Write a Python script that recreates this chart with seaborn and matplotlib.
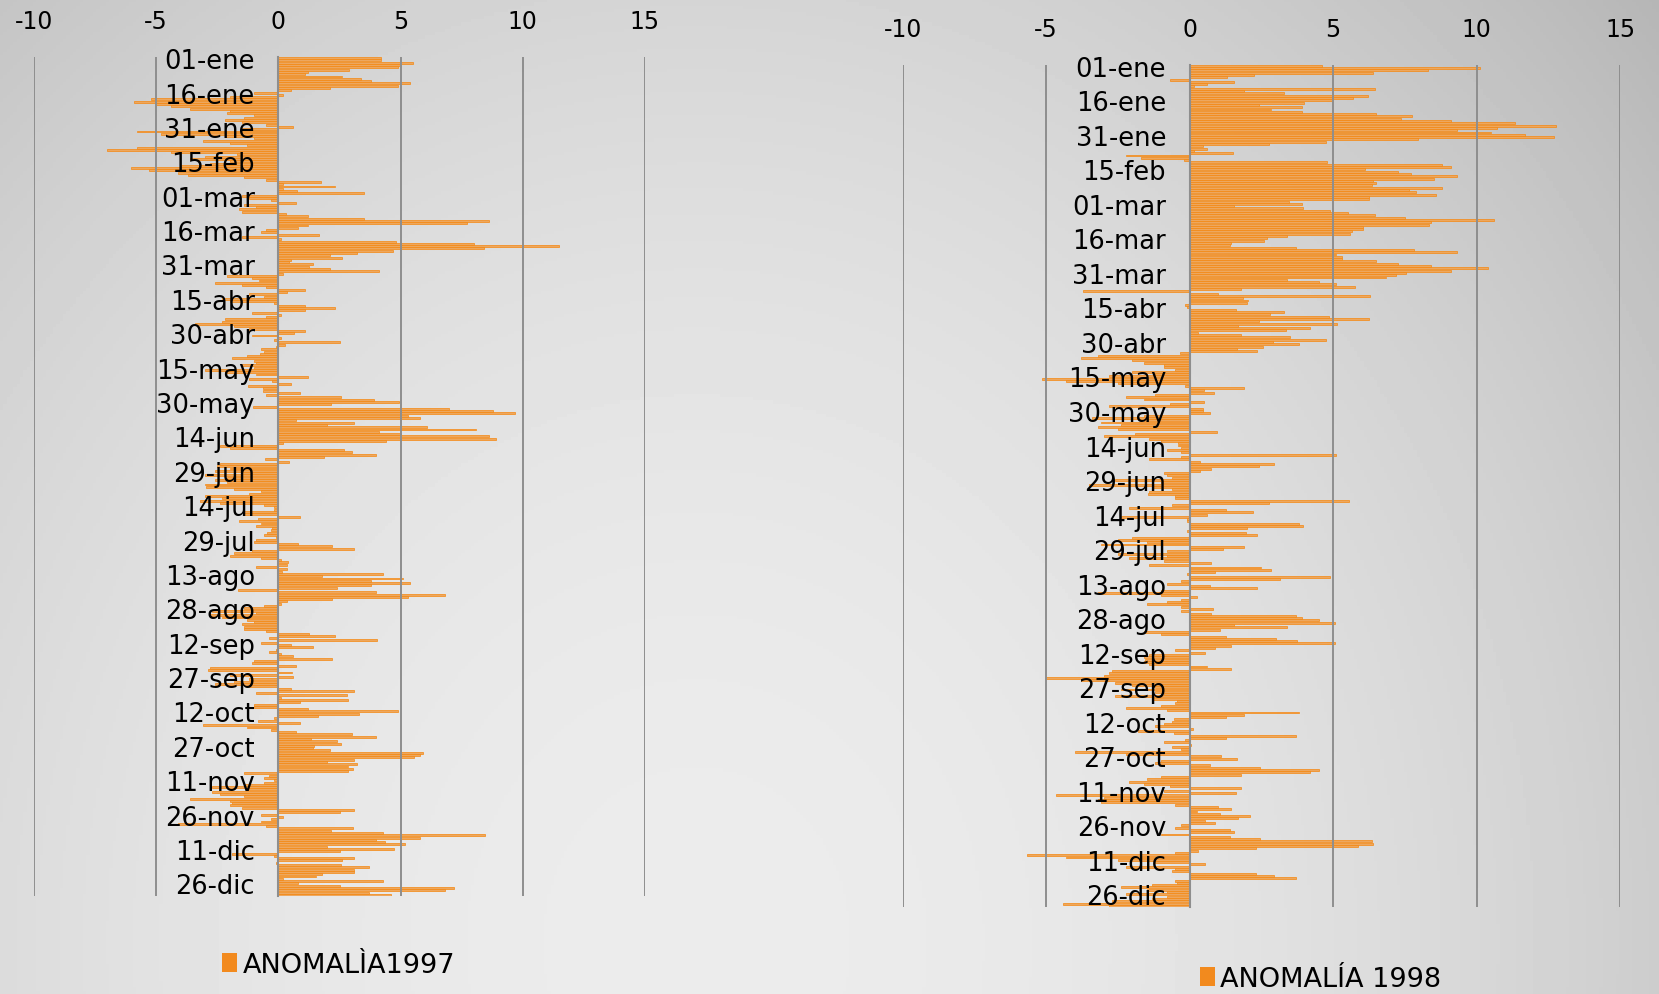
import numpy as np
import pandas as pd
import matplotlib
matplotlib.use('Agg')
import matplotlib.pyplot as plt
import seaborn as sns
from matplotlib.patches import Patch

plt.rcParams['axes.unicode_minus'] = False

# etiquetas diarias (año con 29-feb, como en la hoja original)
MESES = ['ene', 'feb', 'mar', 'abr', 'may', 'jun', 'jul', 'ago', 'sep', 'oct', 'nov', 'dic']
dias = pd.date_range('2000-01-01', '2000-12-31')
fechas = [f'{d.day:02d}-{MESES[d.month - 1]}' for d in dias]

anomalia_1997 = [
    4.2, 4.2, 5.5, 5.0, 4.9, 2.9, 1.2, 1.1, 2.6, 3.4, 3.8, 5.4, 4.9, 2.1, 0.5, -1.0,
    0.2,
    -2.0, -5.2, -5.9, -5.0, -4.4, -3.6, -2.0, -2.1, -1.0, -1.4, -2.2, -1.5, -0.5,
    0.6,
    -1.5, -5.8, -4.8, -2.2, -1.0, -3.1, -2.0, -1.3, -5.8, -7.0, -4.4, -1.7, -3.0, -3.6, -2.0,
    -2.8, -4.0, -6.05, -5.3, -4.1, -3.7, -1.4, -0.5,
    1.75, 0.2, 2.3, 0.2, 0.75, 3.5, -1.5, -1.2, -0.3, 0.7, -1.4, -0.9, -1.6, -1.5, 0.3,
    1.2, 3.5, 8.6, 7.7, 1.2, 0.8, -0.5, -0.7, 1.65, -1.5, 0.1, 4.8, 8.0, 11.5, 8.4,
    4.7, 3.2, 2.1, 2.6, 0.5,
    0.45, 1.4, 1.25, 2.1, 4.1, 0.2, -2.1, -1.1, -0.8, -2.6,
    -1.5, -0.5, 1.1, 0.35, -1.2, -0.6, -2.3, -2.0, -0.2, 1.1,
    2.3, 1.1, -1.1, 0.1, -0.5, -2.2, -2.3, -3.4, -1.8, -1.2,
    1.1, 0.65, -1.1, 0.1, -0.2, 2.5, 0.25, -0.1, -0.7, -0.6,
    -0.75, -1.3, -1.9, -1.0, -0.9, -1.5, -1.0, -3.0, -2.2, -0.9,
    1.2, -1.2, -0.25, 0.5, -1.25, -0.65, -0.65, 0.9, -0.5, 2.55,
    3.9, 4.95, 2.15, -1.05, 7.0, 8.8, 9.7, 5.3, 5.8, 0.7,
    3.1, 2.0, 6.1, 8.1, 4.1, 5.0, 8.6, 8.9, 4.4, 0.2,
    -2.4, -2.0, 2.7, 3.0, 4.0, 1.85, -0.55, 0.45, -2.4, -2.5,
    -2.0, -2.6, -1.5,
    -3.0, -2.1, -2.6, -2.1, -3.0, -2.95, -1.8, -0.7, -1.2, -3.0,
    -2.3, -3.2, -2.4, -0.6, -0.2, -0.2, -1.4, -1.4, 0.9, -0.85,
    -1.6, -0.7, -0.9, -0.25, -0.3, -0.45, -0.6, -0.1, -0.9, -1.0,
    0.8, 2.2, 3.1, -1.1, -1.8, -2.0, -0.7, 0.1, 0.4, 0.35,
    -0.9, 0.35, 0.15, 4.3, 1.8, 5.1, 3.8, 5.4, 3.8, 2.4,
    -1.65, 4.0, 6.8, 5.3, 2.2, 0.35, 0.1, -0.6, -1.4, -2.7,
    -0.9, -2.8, -2.3, -1.3, -1.0, -1.5, -1.4, -1.4, -0.5, 1.25,
    2.3, -0.4, 4.05, -0.7, 0.5, 1.4, -0.1, -0.4, 0.1, 0.6,
    2.2, -1.0, -1.1, 0.7, -2.8, -2.9, 0.55, -2.0, 0.6, -1.2,
    -1.8, -2.6, -1.2,
    0.5, 3.1, -0.9, 2.8, 0.1, 2.85, 0.9, -1.0, -1.0, 1.2,
    4.9, 3.3, 1.6, -0.2, -0.85, 0.9, -3.1, -1.3, -0.3, 0.7,
    3.0, 4.0, 1.35, 2.4, 2.55, 1.45, 1.4, 2.1, 5.9, 5.8,
    5.55, 3.1, 2.0, 3.2, 2.85, 3.05, 2.85,
    -1.4, -0.4, -0.6, -0.2, -0.6, -1.4, -2.7, -1.3, -2.7, -2.4, -1.4, -3.6, -2.0, -1.9, -2.0, -1.5,
    3.1, 2.5, -0.7, 0.2, -0.3, -0.7, -4.1, -0.5,
    3.05, 2.15, 4.3, 8.45, 5.8, 4.0, 4.35, 5.2, 2.0, 4.75,
    2.5, -1.9, -0.2, 3.1, 2.6, -0.1, 2.55, 3.7, 3.1, 3.1,
    1.8, 1.55, 0.2, 4.3, 0.8, 2.5, 7.2, 6.8, 3.7, 4.6,
]

anomalia_1998 = [
    4.6, 10.1, 8.3, 6.4, 2.25, 1.3, -0.7, 1.55, 0.6, 0.15,
    6.45, 1.9, 3.3, 6.2, 5.7, 4.95, 4.0, 2.4, 3.9, 2.85,
    3.9, 6.5, 7.75, 7.35, 9.1, 11.35, 12.75, 10.7, 9.3, 10.5,
    11.7, 12.7, 7.95, 4.75, 2.75, 0.45, 0.6, 0.15, 1.5,
    -2.2, -1.7, -0.2,
    4.8, 8.8, 9.1, 6.1, 7.25, 7.7, 9.3, 8.5, 6.4, 6.5, 6.35, 8.8, 7.65, 7.9, 8.6, 6.25, 6.25,
    3.45, 3.9, 1.55, 3.95, 4.9, 5.5, 6.45, 7.5, 10.6, 8.4,
    8.35, 6.05, 6.05, 5.65, 5.6, 3.4, 2.7, 2.6, 1.45, 1.4,
    3.7, 7.8, 9.3, 5.1, 5.3, 5.3, 6.5, 7.25, 8.4, 10.4,
    9.1, 7.55, 7.2, 6.85, 3.4, 4.5, 5.1, 5.75, 1.8, -3.7,
    1.0, 6.3, 1.85, 2.05, 2.0, -0.15, -0.1, 1.6, 3.3, 2.8,
    4.85, 6.25, 2.4, 5.15, 1.7, 4.2, 3.35, 0.3, 1.8, 3.5,
    4.75, 2.9, 3.8, 2.55, 1.65, 2.35, -0.35, -3.2, -3.8, -2.0,
    -1.6, -0.9, -0.9, -0.5, -2.0, -1.2, -2.8, -5.15, -4.3, -2.5,
    -0.15, 1.9, 0.5, 0.85, -1.2, -2.2, -1.6, 0.5, -0.7, -2.8,
    0.45, 0.45, 0.7, -1.6, -3.4, -1.6, -3.1, -2.4, -3.2, -2.5,
    0.95, -1.9, -3.0, -1.4, -1.0, -0.4, -0.4, -0.3, -0.8, -0.3,
    5.1, -0.3, -1.4, 0.35, 2.95, 2.4, 0.75, 0.35, -0.9, -0.8,
    -0.6,
    -2.6, -1.0, -3.5, -1.3, -0.6, -1.4, -1.45, -0.5, -0.5, 5.55,
    2.75, -0.6, -2.1, 1.25, 2.2, 0.6, -2.4, -0.1, -0.1, 3.8,
    3.95, 2.0, -0.1, 1.95, 2.35, -2.0, -2.5, -1.5, -3.1, 1.9,
    1.15, -0.8, -2.5, -0.8, -2.1, -0.9, 0.75, -1.4, 2.5, 2.85,
    0.9, -0.1, 4.9, 3.15, -0.3, -0.8, 0.7, 2.35, -1.0, -3.2,
    -1.0, 0.25, -0.3, -0.8, -1.5, -0.3, 0.8, -0.3, 0.75, 3.7,
    3.9, 4.5, 5.05, 1.55, 3.4, 1.05, -1.6, -1.0, 1.25, 3.0,
    3.75, 5.05, 1.45, 0.9, -0.5, 0.55, -1.4, -1.6, -1.55, -1.6,
    -1.4, 0.6, 1.45, -2.7, -2.8, -3.0, -5.0, -3.8, -2.6, -2.0,
    -1.2,
    -2.4, -1.2, -0.9, -2.6, -1.3, -0.45, -0.5, -1.0, -2.2, -0.8,
    3.8, 1.9, 1.25, -0.55, -0.6, -0.9, -1.2, 0.1, -1.8, -0.55,
    3.7, 1.25, -0.15, -0.9, 0.05, -0.6, -0.3, -4.0, -2.2, 1.1, 1.65,
    -1.0, -1.2, 0.7, 2.45, 4.5, 4.2, 1.8, -1.0, -1.5, -2.1,
    -1.6, -0.7, 1.8, -0.9, 1.6, -4.65, -3.0, -3.2, -3.1, -0.5,
    1.0, 1.45, 0.25, 1.05, 2.1, 1.7, 0.55, 0.9, -0.3, -0.5,
    1.4, 1.55, -1.0, 1.4, 2.45, 6.35, 6.4, 5.85, 2.3, 0.3,
    -0.5, -5.65, -4.3, -2.5, -1.2, 0.55, -2.2, -0.5, -0.6, 2.3,
    2.95, 3.7, -0.5, -0.45, -1.3, -2.4, -1.5, -0.8, -2.2, -0.8,
    -1.3, -2.7, -4.4, -2.8,
]

xticks = [-10, -5, 0, 5, 10, 15]
paso_etiquetas = 15

RELLENO = '#eda75e'
BORDE = '#f5870f'
GRIS = '#8e8e8e'

W, H = 1659, 995
fig = plt.figure(figsize=(W / 100, H / 100), dpi=100)

# fondo degradado gris
bg = fig.add_axes([0, 0, 1, 1], zorder=-10)
yy, xx = np.mgrid[0:1:300j, 0:1:500j]
d2 = ((xx - 0.42) / 0.55) ** 2 + ((yy - 0.95) / 1.05) ** 2
grad = np.clip(0.925 - 0.11 * d2, 0.70, 1.0)
bg.imshow(grad, cmap='gray', vmin=0, vmax=1, aspect='auto', extent=[0, 1, 0, 1])
bg.axis('off')


def panel(rect, valores, etiqueta, legend_xy):
    ax = fig.add_axes(rect)
    df = pd.DataFrame({'fecha': fechas, 'anomalia': valores})
    sns.barplot(data=df, x='anomalia', y='fecha', orient='h', color=RELLENO,
                saturation=1, edgecolor=BORDE, linewidth=0.5, width=0.85, ax=ax)
    ax.patch.set_alpha(0)
    ax.set_xlim(-10, 15)
    ax.set_ylim(len(fechas) - 0.5, -0.5)
    ax.set_xticks(xticks)
    ax.xaxis.tick_top()
    ax.tick_params(axis='x', length=0, pad=17, labelsize=17)
    idx = list(range(0, len(fechas), paso_etiquetas))
    ax.set_yticks(idx)
    ax.set_yticklabels([fechas[i] for i in idx])
    ax.tick_params(axis='y', length=0, pad=17, labelsize=18.5)
    ax.set_xlabel('')
    ax.set_ylabel('')
    for s in ['top', 'right', 'bottom']:
        ax.spines[s].set_visible(False)
    ax.spines['left'].set_position(('data', 0))
    ax.spines['left'].set_color(GRIS)
    ax.spines['left'].set_linewidth(1.5)
    ax.spines['left'].set_zorder(3)
    ax.grid(axis='x', color=GRIS, linewidth=1.4)
    ax.grid(axis='y', visible=False)
    ax.set_axisbelow('line')
    fig.legend(handles=[Patch(facecolor='#f28a1e', edgecolor='none')], labels=[etiqueta],
               loc='center left', bbox_to_anchor=legend_xy, frameon=False, fontsize=19.5,
               handlelength=0.55, handleheight=0.75, handletextpad=0.2,
               borderaxespad=0, borderpad=0)
    return ax


panel([34 / W, 1 - 897 / H, 611 / W, (897 - 58) / H], anomalia_1997,
      'ANOMALÌA1997', (222 / W, 1 - 966 / H))
panel([902.6 / W, 1 - 908 / H, 717.6 / W, (908 - 65.6) / H], anomalia_1998,
      'ANOMALÍA 1998', (1200 / W, 1 - 980 / H))

fig.savefig('out.png', dpi=100)
